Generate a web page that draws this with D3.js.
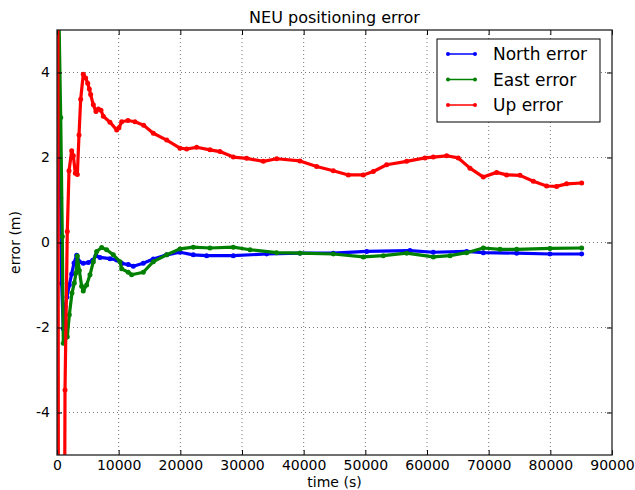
<!DOCTYPE html>
<html>
<head>
<meta charset="utf-8">
<script src="https://cdn.jsdelivr.net/npm/d3@7/dist/d3.min.js"></script>
<style>
  html, body { margin: 0; padding: 0; background: #fff; }
  svg { display: block; font-family: "DejaVu Sans", sans-serif; }
</style>
</head>
<body>
<svg id="chart" width="635" height="490"></svg>
<script>
// Time stamps (s) and errors (m) for each NEU component
const northTime = [0, 600, 760, 1020, 1300, 1620, 2000, 2380, 2760, 3190, 3620, 4260, 5080, 5790, 6320, 6970, 8590, 9680, 10490, 11560, 12370, 13990, 15620, 17790, 19940, 22100, 24270, 28590, 34000, 39400, 44800, 50220, 57240, 61020, 66430, 69130, 74540, 79940, 85080];
const northErr  = [8, 1.05, -0.96, -2.03, -1.5, -1.28, -1.0, -0.74, -0.48, -0.30, -0.45, -0.49, -0.47, -0.42, -0.31, -0.35, -0.38, -0.41, -0.49, -0.52, -0.56, -0.49, -0.39, -0.29, -0.23, -0.29, -0.31, -0.31, -0.27, -0.25, -0.25, -0.21, -0.19, -0.23, -0.21, -0.24, -0.25, -0.27, -0.27];

const eastTime = [0, 600, 860, 1020, 1670, 2000, 2430, 2810, 3080, 3300, 3620, 4000, 4260, 4800, 5350, 5890, 6430, 7240, 8050, 9130, 10210, 10490, 11560, 12100, 13990, 15620, 17790, 19940, 22100, 24810, 28590, 31300, 35630, 39400, 44800, 49670, 52910, 56700, 61020, 63730, 66430, 69130, 71840, 74540, 79940, 85080];
const eastErr  = [8, 2.94, 0.14, -2.37, -2.22, -1.70, -1.19, -0.95, -0.72, -0.32, -0.66, -1.03, -1.14, -1.0, -0.76, -0.45, -0.21, -0.12, -0.17, -0.29, -0.45, -0.62, -0.70, -0.76, -0.70, -0.45, -0.29, -0.15, -0.11, -0.13, -0.11, -0.17, -0.24, -0.25, -0.27, -0.34, -0.31, -0.25, -0.34, -0.31, -0.24, -0.13, -0.16, -0.16, -0.14, -0.13];

const upTime = [0, 370, 930, 1300, 1670, 1950, 2380, 2650, 2970, 3300, 3570, 3840, 4260, 4650, 4980, 5240, 5460, 5890, 6320, 6700, 7130, 7510, 8590, 9680, 10050, 10490, 11510, 12640, 14050, 15620, 17790, 19940, 21030, 22650, 24810, 26430, 28590, 30760, 33460, 35630, 39400, 42110, 44800, 47240, 49670, 51290, 53460, 56700, 59670, 61020, 63190, 65070, 66970, 69130, 71290, 72910, 75080, 77240, 79400, 81020, 82640, 85080];
const upErr  = [30, -30, -20, -3.47, 0.26, 1.69, 2.16, 2.04, 1.63, 1.60, 2.53, 3.37, 3.96, 3.87, 3.75, 3.61, 3.48, 3.24, 3.08, 3.14, 3.11, 2.97, 2.83, 2.65, 2.70, 2.84, 2.87, 2.84, 2.76, 2.57, 2.41, 2.22, 2.20, 2.24, 2.18, 2.14, 2.01, 1.98, 1.91, 1.97, 1.92, 1.79, 1.69, 1.59, 1.59, 1.67, 1.83, 1.91, 1.99, 2.01, 2.04, 1.99, 1.75, 1.54, 1.65, 1.59, 1.58, 1.44, 1.33, 1.32, 1.38, 1.40];

const xTicks = [0, 10000, 20000, 30000, 40000, 50000, 60000, 70000, 80000, 90000];
const yTicks = [-4, -2, 0, 2, 4];

const seriesNames  = ["North error", "East error", "Up error"];
const seriesColors = ["#0000ff", "#008000", "#ff0000"];

const series = [
  { name: seriesNames[0], color: seriesColors[0], pts: northTime.map((t, i) => [t, northErr[i]]) },
  { name: seriesNames[1], color: seriesColors[1], pts: eastTime.map((t, i) => [t, eastErr[i]]) },
  { name: seriesNames[2], color: seriesColors[2], pts: upTime.map((t, i) => [t, upErr[i]]) }
];

const svg = d3.select("#chart");
const W = 635, H = 490;
const m = { left: 57, right: 23, top: 30, bottom: 35 };
const pw = W - m.left - m.right, ph = H - m.top - m.bottom;

svg.append("rect").attr("width", W).attr("height", H).attr("fill", "#fff");

const x = d3.scaleLinear().domain([0, 90000]).range([0, pw]);
const y = d3.scaleLinear().domain([-5, 5]).range([ph, 0]);

const g = svg.append("g").attr("transform", `translate(${m.left},${m.top})`);

svg.append("defs").append("clipPath").attr("id", "plotclip")
  .append("rect").attr("width", pw).attr("height", ph);

// dotted grid
const grid = g.append("g").attr("stroke", "#555").attr("stroke-width", 0.8)
  .attr("stroke-dasharray", "1,3");
grid.selectAll(".gx").data(xTicks.slice(1, -1)).join("line")
  .attr("x1", d => x(d)).attr("x2", d => x(d)).attr("y1", 0).attr("y2", ph);
grid.selectAll(".gy").data(yTicks).join("line")
  .attr("y1", d => y(d)).attr("y2", d => y(d)).attr("x1", 0).attr("x2", pw);

// data lines with dot markers
const line = d3.line().x(d => x(d[0])).y(d => y(d[1]));
const plot = g.append("g").attr("clip-path", "url(#plotclip)");
series.forEach(s => {
  plot.append("path").datum(s.pts)
    .attr("fill", "none").attr("stroke", s.color)
    .attr("stroke-width", 3.2).attr("stroke-linejoin", "round").attr("stroke-linecap", "round")
    .attr("d", line);
  plot.selectAll(null).data(s.pts).join("circle")
    .attr("cx", d => x(d[0])).attr("cy", d => y(d[1]))
    .attr("r", 2.5).attr("fill", s.color);
});

// axes: ticks pointing inward on all four sides
const tickStyle = sel => {
  sel.select(".domain").remove();
  sel.selectAll(".tick line").attr("stroke", "#000").attr("stroke-width", 1);
  sel.selectAll(".tick text").attr("fill", "#000").attr("font-size", 14)
    .attr("font-family", "DejaVu Sans, sans-serif");
};
g.append("g").attr("transform", `translate(0,${ph})`)
  .call(d3.axisBottom(x).tickValues(xTicks).tickFormat(d3.format("d")).tickSizeInner(-5).tickPadding(5))
  .call(tickStyle);
g.append("g")
  .call(d3.axisTop(x).tickValues(xTicks).tickFormat("").tickSizeInner(-5))
  .call(tickStyle);
g.append("g")
  .call(d3.axisLeft(y).tickValues(yTicks).tickFormat(d => d < 0 ? "-" + Math.abs(d) : d).tickSizeInner(-5).tickPadding(7))
  .call(tickStyle);
g.append("g").attr("transform", `translate(${pw},0)`)
  .call(d3.axisRight(y).tickValues(yTicks).tickFormat("").tickSizeInner(-5))
  .call(tickStyle);

// frame
g.append("rect").attr("width", pw).attr("height", ph)
  .attr("fill", "none").attr("stroke", "#222").attr("stroke-width", 1.3);

// title and axis labels
svg.append("text").attr("x", m.left + pw / 2).attr("y", 23)
  .attr("text-anchor", "middle").attr("font-size", 16).text("NEU positioning error");
svg.append("text").attr("x", m.left + pw / 2).attr("y", 487)
  .attr("text-anchor", "middle").attr("font-size", 14).text("time (s)");
svg.append("text").attr("transform", `translate(20,${m.top + ph / 2}) rotate(-90)`)
  .attr("text-anchor", "middle").attr("font-size", 14).text("error (m)");

// legend
const lg = svg.append("g").attr("transform", "translate(437,39)");
lg.append("rect").attr("width", 163).attr("height", 83)
  .attr("fill", "#fff").attr("stroke", "#000").attr("stroke-width", 1);
series.forEach((s, i) => {
  const yy = 15 + i * 25.5;
  lg.append("line").attr("x1", 11).attr("x2", 38).attr("y1", yy).attr("y2", yy)
    .attr("stroke", s.color).attr("stroke-width", 1.5);
  [11, 38].forEach(cx => lg.append("circle").attr("cx", cx).attr("cy", yy).attr("r", 2).attr("fill", s.color));
  lg.append("text").attr("x", 56).attr("y", yy + 6).attr("font-size", 17).text(s.name);
});
</script>
</body>
</html>
